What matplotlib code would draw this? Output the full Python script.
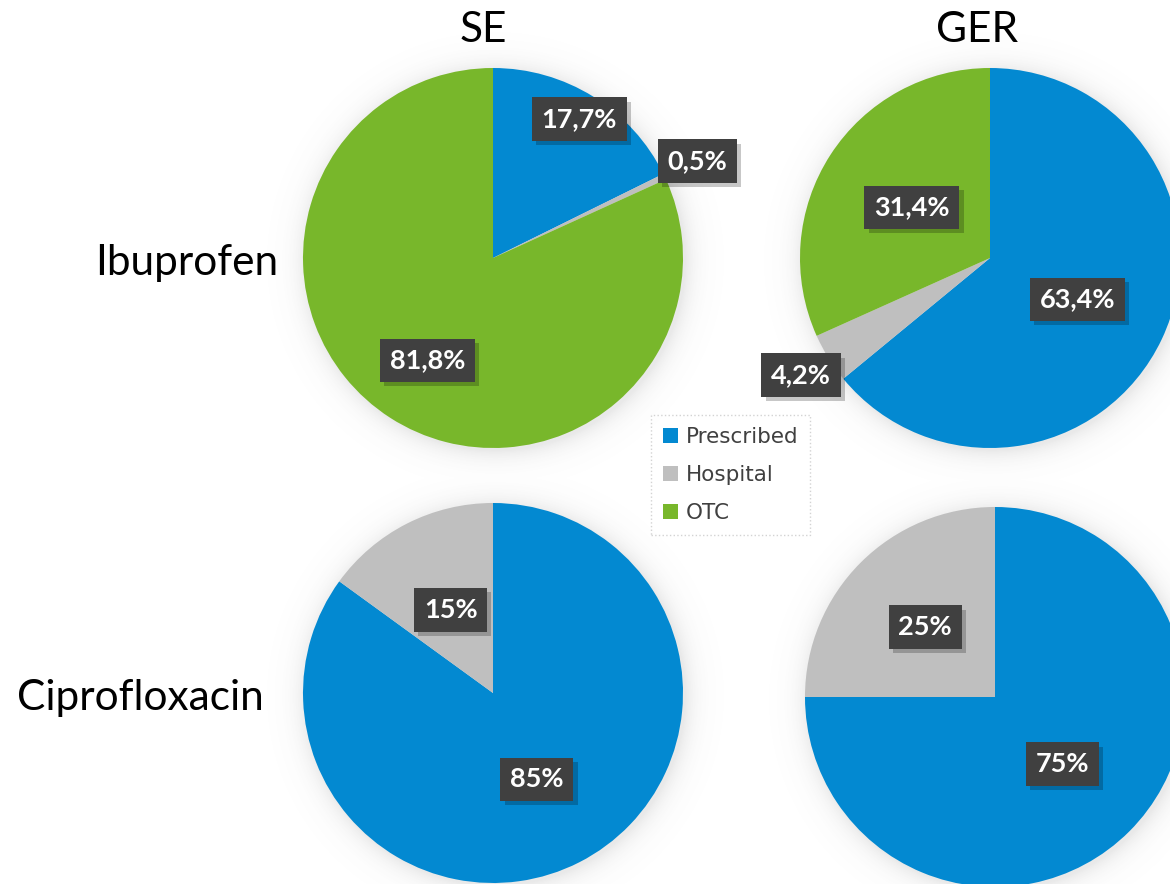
import numpy as np
import matplotlib
matplotlib.use("Agg")
import matplotlib.pyplot as plt
from matplotlib.patches import Patch
import matplotlib.patheffects as pe

# ---- data -------------------------------------------------------------
categories = ["Prescribed", "Hospital", "OTC"]
colors = {"Prescribed": "#0389D1", "Hospital": "#BFBFBF", "OTC": "#78B72B"}

countries = ["SE", "GER"]
drugs = ["Ibuprofen", "Ciprofloxacin"]

se_ibuprofen = [17.7, 0.5, 81.8]        # Prescribed, Hospital, OTC
ger_ibuprofen = [63.4, 4.2, 31.4]
se_ciprofloxacin = [85, 15]             # Prescribed, Hospital
ger_ciprofloxacin = [75, 25]

# ---- layout -----------------------------------------------------------
W, H = 1170, 884
fig = plt.figure(figsize=(W / 100, H / 100), dpi=100)
ax = fig.add_axes([0, 0, 1, 1])
ax.set_facecolor("white")

R = 190
charts = [
    # values, centre (px from top-left), decimals, label radial factors, explode
    (se_ibuprofen, (493, 258), 1, [0.86, 1.19, 0.64], [0, 0, 0]),
    (ger_ibuprofen, (990, 258), 1, [0.51, 1.17, 0.49], [0, 0, 0]),
    (se_ciprofloxacin, (493, 693), 0, [0.51, 0.49], [0, 0]),
    (ger_ciprofloxacin, (995, 697), 0, [0.50, 0.52], [0, 0.018]),
]

# soft halo behind the pies
yy, xx = np.mgrid[0:H, 0:W]
shade = np.zeros((H, W))
for _, (cx, cy), *_rest in charts:
    d = np.hypot(xx - cx - 2, yy - cy - 2) - R
    s = np.where(d > 0, 0.13 * np.exp(-d / 11.0), 0.13)
    shade = np.maximum(shade, s)
rgba = np.zeros((H, W, 4))
rgba[..., :3] = 0.35
rgba[..., 3] = shade
ax.imshow(rgba, extent=(0, W, 0, H), origin="upper", zorder=0,
          interpolation="bilinear")

label_font = dict(family=["Lato", "DejaVu Sans"], fontsize=19.5,
                  fontweight="bold", color="white")

for values, (cx, cy), dec, dists, explode in charts:
    cols = [colors[c] for c in categories[:len(values)]]
    wedges, _ = ax.pie(values, colors=cols, startangle=90, counterclock=False,
                       radius=R, center=(cx, H - cy), explode=explode,
                       wedgeprops=dict(linewidth=0), normalize=True)
    for w, v, f in zip(wedges, values, dists):
        w.set_zorder(2)
        mid = np.deg2rad((w.theta1 + w.theta2) / 2)
        x = w.center[0] + f * w.r * np.cos(mid)
        y = w.center[1] + f * w.r * np.sin(mid)
        txt = (f"{v:.{dec}f}".replace(".", ",")) + "%"
        t = ax.text(x, y, txt, ha="center", va="center", zorder=5,
                    bbox=dict(boxstyle="square,pad=0.36", facecolor="#404040",
                              edgecolor="none"),
                    **label_font)
        t.get_bbox_patch().set_path_effects(
            [pe.SimplePatchShadow(offset=(3, -3), shadow_rgbFace="#000000",
                                  alpha=0.22), pe.Normal()])

ax.set_xlim(0, W)
ax.set_ylim(0, H)
ax.set_aspect("equal")
ax.axis("off")

# column and row headings
title_font = dict(family=["Lato", "DejaVu Sans"], fontsize=30.5, color="black")
ax.text(483, H - 42, countries[0], ha="center", va="baseline", **title_font)
ax.text(977, H - 42, countries[1], ha="center", va="baseline", **title_font)
ax.text(278, H - 275, drugs[0], ha="right", va="baseline", **title_font)
ax.text(264, H - 710, drugs[1], ha="right", va="baseline", **title_font)

# legend
handles = [Patch(facecolor=colors[c], edgecolor="none", label=c)
           for c in categories]
leg = fig.legend(handles=handles, loc="upper left",
                 bbox_to_anchor=(651 / W, 1 - 415 / H),
                 prop=dict(family="DejaVu Sans", size=15.5),
                 labelcolor="#404040", frameon=True, fancybox=False,
                 edgecolor="#C8C8C8", handlelength=0.7, handleheight=0.7,
                 handletextpad=0.35, labelspacing=0.85, borderpad=0.55,
                 borderaxespad=0)
leg.get_frame().set_linestyle(":")
leg.get_frame().set_linewidth(1.0)

fig.savefig("out.png", dpi=100, facecolor="white")
